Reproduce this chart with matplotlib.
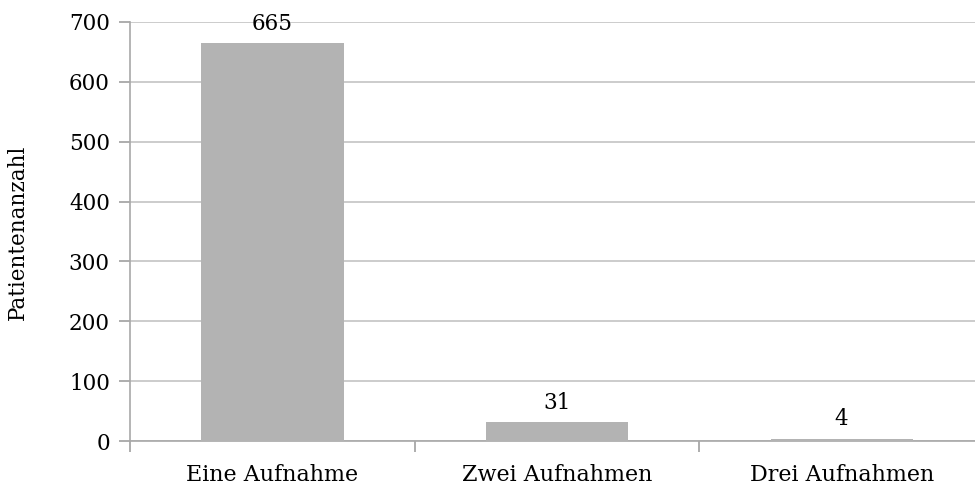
import matplotlib
matplotlib.use("Agg")
import matplotlib.pyplot as plt

categories = ["Eine Aufnahme", "Zwei Aufnahmen", "Drei Aufnahmen"]
values = [665, 31, 4]
yticks = [0, 100, 200, 300, 400, 500, 600, 700]

plt.rcParams['font.family'] = ['DejaVu Serif']
FS = 15.5

fig = plt.figure(figsize=(9.75, 4.88), dpi=100)
ax = fig.add_axes([130/975, 1-441/488, (984-130)/975, (441-22)/488])

x = list(range(len(categories)))
bars = ax.bar(x, values, width=0.5, color="#b3b3b3", zorder=3)
ax.set_xlim(-0.5, len(categories)-0.5)
ax.set_ylim(0, 700)
ax.set_yticks(yticks)
ax.set_yticklabels([str(t) for t in yticks], fontsize=FS)
ax.yaxis.grid(True, color="#c3c3c3", linewidth=1.2, zorder=0)
ax.set_axisbelow(True)

ax.set_xticks([i for i in x])
ax.set_xticklabels(categories, fontsize=16)
ax.set_xticks([-0.5 + i for i in range(len(categories)+1)], minor=True)
ax.tick_params(axis='x', which='major', length=0, pad=16.5)
ax.tick_params(axis='x', which='minor', length=8, color="#a0a0a0", width=1.2)
ax.tick_params(axis='y', length=8, color="#a0a0a0", width=1.2, pad=6.5)

for s in ['top', 'right']:
    ax.spines[s].set_visible(False)
for s in ['left', 'bottom']:
    ax.spines[s].set_color("#a8a8a8")
    ax.spines[s].set_linewidth(1.2)

for xi, v in zip(x, values):
    ax.annotate(str(v), (xi, v), xytext=(0, 9.5), textcoords='offset points',
                ha='center', va='baseline', fontsize=FS)

fig.text(18/975, 1-232/488, "Patientenanzahl", rotation=90, ha='center', va='center', fontsize=FS)

fig.savefig("out.png", dpi=100)
